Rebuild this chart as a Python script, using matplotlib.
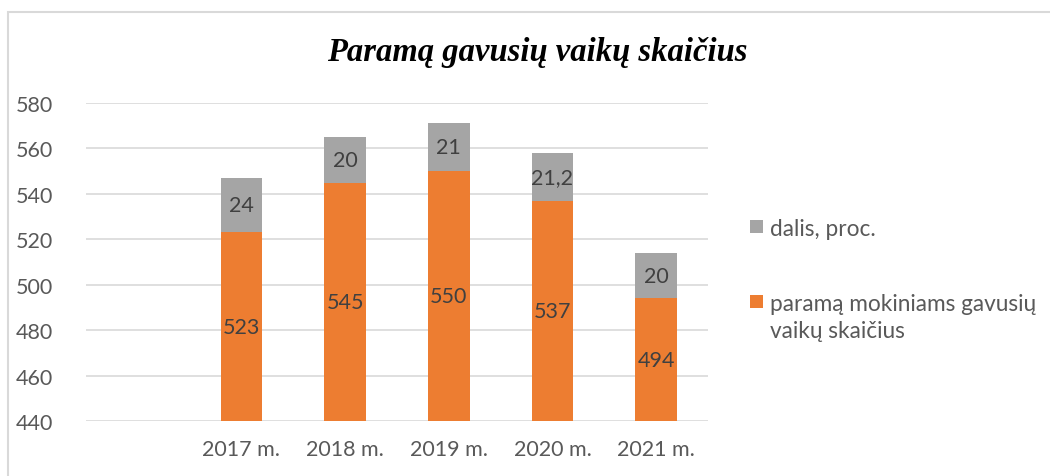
import matplotlib
matplotlib.use("Agg")
import matplotlib.pyplot as plt
from matplotlib.patches import Rectangle

categories = ["2017 m.", "2018 m.", "2019 m.", "2020 m.", "2021 m."]
children = [523, 545, 550, 537, 494]
share = [24, 20, 21, 21.2, 20]
share_labels = ["24", "20", "21", "21,2", "20"]
title = "Paramą gavusių vaikų skaičius"
legend_labels = ["dalis, proc.", "paramą mokiniams gavusių\nvaikų skaičius"]

ORANGE = "#ed7d31"
GRAY = "#a5a5a5"
TXT = "#595959"
LBL = "#404040"
FONT = "Lato"

W, H = 1050, 477
fig = plt.figure(figsize=(W / 100, H / 100), dpi=100)
fig.patch.set_facecolor("white")

# outer chart border
fig.patches.append(Rectangle((8 / W, -0.05), 1.1, 1 - 13 / H + 0.05, transform=fig.transFigure,
                             fill=False, edgecolor="#d9d9d9", lw=1.5, zorder=0))

ax = fig.add_axes([86 / W, 1 - 422 / H, (708 - 86) / W, (422 - 104) / H])
x = list(range(len(categories)))
bw = 0.4
ax.bar(x, [v - 440 for v in children], bottom=440, width=bw, color=ORANGE, zorder=3)
ax.bar(x, share, bottom=children, width=bw, color=GRAY, zorder=3)

for xi, v in zip(x, children):
    ax.text(xi, (440 + v) / 2, str(v), ha="center", va="center", fontsize=15.5,
            color=LBL, family=FONT, zorder=4)
for xi, v, s, sl in zip(x, children, share, share_labels):
    ax.text(xi, v + s / 2, sl, ha="center", va="center", fontsize=15.5,
            color=LBL, family=FONT, zorder=4)

ax.set_ylim(440, 580)
ax.set_xlim(-1.5, len(categories) - 0.5)
ax.set_yticks(range(440, 581, 20))
ax.set_xticks(x)
ax.set_xticklabels(categories)
for s in ax.spines.values():
    s.set_visible(False)
ax.tick_params(length=0, labelsize=15.5, labelcolor=TXT)
ax.tick_params(axis="y", pad=24)
ax.tick_params(axis="x", pad=13)
for lab in ax.get_xticklabels() + ax.get_yticklabels():
    lab.set_family(FONT)
ax.yaxis.grid(True, color="#d9d9d9", lw=1.2, zorder=0)
ax.set_axisbelow(True)

fig.text(537 / W, 1 - 53 / H, title, ha="center", va="center", fontsize=23.5,
         family="Liberation Serif", style="italic", weight="bold", color="black")

# legend
fig.patches.append(Rectangle((750 / W, 1 - 234 / H), 13 / W, 13 / H, transform=fig.transFigure,
                             facecolor=GRAY, edgecolor="none"))
fig.patches.append(Rectangle((750 / W, 1 - 309 / H), 13 / W, 13 / H, transform=fig.transFigure,
                             facecolor=ORANGE, edgecolor="none"))
fig.text(770 / W, 1 - 229 / H, legend_labels[0], ha="left", va="center", fontsize=16.3,
         family=FONT, color=TXT)
fig.text(770 / W, 1 - 318 / H, legend_labels[1], ha="left", va="center", fontsize=16.3,
         family=FONT, color=TXT, linespacing=1.3)

fig.savefig("out.png", dpi=100)
